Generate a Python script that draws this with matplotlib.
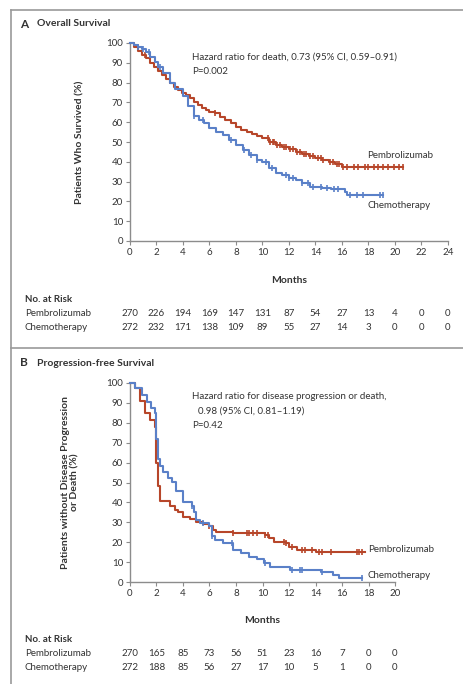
import numpy as np
import matplotlib
matplotlib.use("Agg")
import matplotlib.pyplot as plt
from matplotlib.lines import Line2D
from matplotlib.transforms import blended_transform_factory

plt.rcParams['font.family'] = ['Lato', 'DejaVu Sans']

RED = '#b7462a'
BLUE = '#5a80c8'
GRAY = '#8c8c8c'
TXT = '#333333'

# --- Panel A : overall survival (step curves, months / %) ---
os_pem_t = [0, 0.3, 0.6, 0.9, 1.2, 1.5, 1.8, 2.1, 2.4, 2.7, 3.0, 3.3, 3.6, 3.9, 4.2, 4.5,
            4.8, 5.1, 5.4, 5.7, 6.0, 6.4, 6.8, 7.2, 7.6, 8.0, 8.4, 8.8, 9.2, 9.6, 10.0,
            10.5, 11.0, 11.5, 12.0, 12.5, 13.0, 13.5, 14.0, 14.5, 15.0, 15.5, 16.0, 20.6]
os_pem_s = [100, 98, 96, 94, 92.5, 90, 88, 86, 84, 82, 80, 78, 76.5, 75, 73.5, 72,
            70, 68.5, 67, 66, 65, 64.5, 62.5, 61, 59.5, 57.5, 56, 55, 54, 53, 52,
            50, 48.5, 47.5, 46.5, 45, 44, 43, 42, 41, 40, 39, 37.5, 37.5]
os_pem_cens = [1.1, 6.4, 10.4, 10.6, 10.8, 10.9, 11.1, 11.3, 11.6, 11.8, 12.1, 12.3, 12.6,
               12.8, 13.1, 13.3, 13.6, 13.8, 14.2, 14.4, 14.6, 15.1, 15.3, 15.6, 15.8,
               16.1, 16.4, 16.9, 17.2, 17.7, 18.0, 18.4, 18.7, 19.1, 19.5, 19.9, 20.3, 20.6]

os_che_t = [0, 0.3, 0.6, 0.9, 1.2, 1.5, 1.85, 2.1, 2.5, 3.0, 3.4, 4.0, 4.4, 4.8, 5.2, 5.6,
            6.0, 6.5, 7.0, 7.5, 8.0, 8.5, 9.0, 9.6, 10.0, 10.5, 11.0, 11.5, 12.0, 12.5,
            13.0, 13.6, 14.5, 15.2, 16.2, 16.4, 19.1]
os_che_s = [100, 99, 98, 97, 95.5, 93, 90.5, 88, 85, 80, 77, 73, 68, 63, 61, 59.5,
            57, 55, 53.5, 51, 48.5, 46, 43.5, 41, 40, 37, 34.5, 33.5, 32, 31,
            29.5, 27.5, 27, 26.5, 25, 23.3, 23.3]
os_che_cens = [0.6, 1.0, 1.4, 2.3, 4.8, 5.5, 7.6, 8.6, 9.1, 9.6, 10.3, 10.7, 11.8, 12.0,
               12.3, 13.0, 13.4, 13.8, 14.4, 14.9, 15.4, 15.7, 16.6, 17.1, 17.6, 18.9, 19.1]

# --- Panel B : progression-free survival ---
pfs_pem_t = [0, 0.4, 0.75, 1.1, 1.5, 1.9, 2.0, 2.1, 2.27, 3.0, 3.4, 3.6, 4.0, 4.5, 5.0,
             5.5, 6.0, 6.3, 6.5, 7.8, 10.2, 10.5, 10.9, 11.8, 12.0, 12.6, 14.0, 17.7]
pfs_pem_s = [100, 97.5, 91, 85, 81.5, 78, 60, 48, 40.5, 38, 36, 35, 32.5, 31.5, 30,
             29, 28, 26, 25, 24.5, 23.5, 22, 20.3, 19.6, 17.8, 16.1, 15.2, 15.2]
pfs_pem_cens = [6.0, 7.8, 8.8, 9.0, 9.3, 9.6, 10.2, 10.4, 11.6, 11.8, 12.2, 13.0, 13.2,
                13.7, 14.3, 14.5, 15.2, 17.1, 17.3, 17.5]

pfs_che_t = [0, 0.4, 0.9, 1.25, 1.6, 1.9, 2.0, 2.15, 2.3, 2.5, 2.9, 3.15, 3.5, 4.0, 4.65,
             4.8, 5.0, 5.3, 6.0, 6.2, 6.4, 7.0, 7.8, 8.4, 9.0, 9.6, 10.1, 10.6, 12.1,
             14.4, 15.3, 15.8, 17.5]
pfs_che_s = [100, 97.5, 94, 90.5, 87.5, 85, 72, 62, 58.5, 55.5, 52.5, 50.5, 45.5, 40, 38,
             35, 31, 29.5, 28, 23, 21, 19.5, 16, 14.5, 12.7, 11.5, 9.5, 7.7, 6,
             5.2, 3.5, 2, 2]
pfs_che_cens = [4.7, 5.5, 6.2, 7.7, 10.2, 12.2, 12.8, 13.0, 14.5, 17.5]

# --- numbers at risk ---
risk_a_months = [0, 2, 4, 6, 8, 10, 12, 14, 16, 18, 20, 22, 24]
risk_a_pem = [270, 226, 194, 169, 147, 131, 87, 54, 27, 13, 4, 0, 0]
risk_a_che = [272, 232, 171, 138, 109, 89, 55, 27, 14, 3, 0, 0, 0]

risk_b_months = [0, 2, 4, 6, 8, 10, 12, 14, 16, 18, 20]
risk_b_pem = [270, 165, 85, 73, 56, 51, 23, 16, 7, 0, 0]
risk_b_che = [272, 188, 85, 56, 27, 17, 10, 5, 1, 0, 0]


def km(ax, t, s, cens, color):
    ax.step(t, s, where='post', color=color, lw=1.5, clip_on=False, zorder=3)
    t = np.asarray(t)
    s = np.asarray(s)
    idx = np.searchsorted(t, cens, side='right') - 1
    ax.plot(cens, s[idx], ls='none', marker='|', ms=5, mew=1.2, color=color,
            clip_on=False, zorder=3)


def style_axes(ax, xmax):
    ax.set_xlim(0, xmax)
    ax.set_ylim(0, 100)
    ax.set_xticks(range(0, xmax + 1, 2))
    ax.set_yticks(range(0, 101, 10))
    for sp in ['top', 'right']:
        ax.spines[sp].set_visible(False)
    for sp in ['left', 'bottom']:
        ax.spines[sp].set_color(GRAY)
        ax.spines[sp].set_linewidth(1.0)
    ax.tick_params(colors=GRAY, labelcolor=TXT, labelsize=7, length=3, width=0.8, pad=2)


def risk_table(fig, ax, months, pem, che, y0):
    tr = blended_transform_factory(ax.transData, fig.transFigure)
    H = 684.0
    fig.text(25 / 464, 1 - y0 / H, 'No. at Risk', fontsize=7, fontweight='bold',
             color=TXT, va='center')
    fig.text(25 / 464, 1 - (y0 + 15) / H, 'Pembrolizumab', fontsize=7, color=TXT, va='center')
    fig.text(25 / 464, 1 - (y0 + 29) / H, 'Chemotherapy', fontsize=7, color=TXT, va='center')
    for m, a, b in zip(months, pem, che):
        ax.text(m, 1 - (y0 + 15) / H, str(a), transform=tr, fontsize=7, color=TXT,
                ha='center', va='center')
        ax.text(m, 1 - (y0 + 29) / H, str(b), transform=tr, fontsize=7, color=TXT,
                ha='center', va='center')


fig = plt.figure(figsize=(4.64, 6.84), dpi=100)

# outer frame
fig.add_artist(Line2D([11 / 464, 11 / 464], [0, 1 - 10 / 684], color='#9a9a9a', lw=1.2))
fig.add_artist(Line2D([11 / 464, 1], [1 - 10 / 684, 1 - 10 / 684], color='#9a9a9a', lw=1.2))
fig.add_artist(Line2D([11 / 464, 1], [1 - 348 / 684, 1 - 348 / 684], color='#9a9a9a', lw=1.2))

# panel A
axA = fig.add_axes([130 / 464, 1 - 241 / 684, 318 / 464, 198 / 684])
km(axA, os_pem_t, os_pem_s, os_pem_cens, RED)
km(axA, os_che_t, os_che_s, os_che_cens, BLUE)
style_axes(axA, 24)
axA.set_xlabel('Months', fontsize=7.5, fontweight='bold', color=TXT)
axA.xaxis.set_label_coords(0.5, -0.177)
axA.set_ylabel('Patients Who Survived (%)', fontsize=7.5, fontweight='bold', color=TXT)
axA.yaxis.set_label_coords(-0.142, 0.5)
axA.text(192 / 464, 1 - 57 / 684, 'Hazard ratio for death, 0.73 (95% CI, 0.59\u20130.91)',
         transform=fig.transFigure, fontsize=7, color=TXT, va='center')
axA.text(192 / 464, 1 - 71 / 684, 'P=0.002', transform=fig.transFigure, fontsize=7,
         color=TXT, va='center')
axA.text(367 / 464, 1 - 155 / 684, 'Pembrolizumab', transform=fig.transFigure,
         fontsize=7, color=TXT, va='center')
axA.text(368 / 464, 1 - 206 / 684, 'Chemotherapy', transform=fig.transFigure,
         fontsize=7, color=TXT, va='center')
fig.text(20 / 464, 1 - 24 / 684, 'A', fontsize=8.5, fontweight='bold', color=TXT, va='center')
fig.text(37 / 464, 1 - 24 / 684, 'Overall Survival', fontsize=7.5, fontweight='bold',
         color=TXT, va='center')
risk_table(fig, axA, risk_a_months, risk_a_pem, risk_a_che, 299)

# panel B
axB = fig.add_axes([130 / 464, 1 - 582 / 684, 265 / 464, 199 / 684])
km(axB, pfs_pem_t, pfs_pem_s, pfs_pem_cens, RED)
km(axB, pfs_che_t, pfs_che_s, pfs_che_cens, BLUE)
style_axes(axB, 20)
axB.set_xlabel('Months', fontsize=7.5, fontweight='bold', color=TXT)
axB.xaxis.set_label_coords(0.5, -0.171)
axB.set_ylabel('Patients without Disease Progression\nor Death (%)', fontsize=7.5,
               fontweight='bold', color=TXT, linespacing=1.1)
axB.yaxis.set_label_coords(-0.19, 0.5)
axB.text(192 / 464, 1 - 397 / 684, 'Hazard ratio for disease progression or death,',
         transform=fig.transFigure, fontsize=7, color=TXT, va='center')
axB.text(198 / 464, 1 - 411 / 684, '0.98 (95% CI, 0.81\u20131.19)',
         transform=fig.transFigure, fontsize=7, color=TXT, va='center')
axB.text(192 / 464, 1 - 425 / 684, 'P=0.42', transform=fig.transFigure, fontsize=7,
         color=TXT, va='center')
axB.text(368 / 464, 1 - 549 / 684, 'Pembrolizumab', transform=fig.transFigure,
         fontsize=7, color=TXT, va='center')
axB.text(368 / 464, 1 - 575 / 684, 'Chemotherapy', transform=fig.transFigure,
         fontsize=7, color=TXT, va='center')
fig.text(20 / 464, 1 - 363 / 684, 'B', fontsize=8.5, fontweight='bold', color=TXT, va='center')
fig.text(37 / 464, 1 - 363 / 684, 'Progression-free Survival', fontsize=7.5,
         fontweight='bold', color=TXT, va='center')
risk_table(fig, axB, risk_b_months, risk_b_pem, risk_b_che, 639)

fig.savefig('out.png', dpi=100)
